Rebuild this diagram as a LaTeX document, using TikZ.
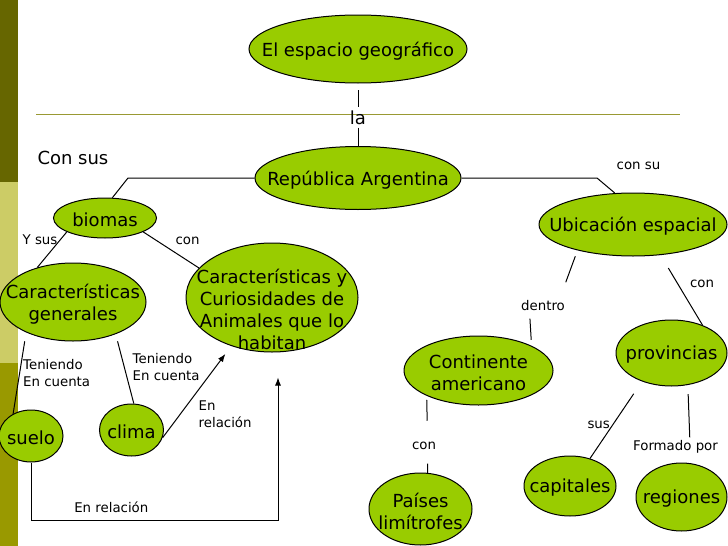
\documentclass[tikz,border=0pt]{standalone}
\usepackage{fontspec}
\setmainfont{DejaVu Sans}
\usetikzlibrary{shapes.geometric,arrows.meta}
\newcommand{\conceptfont}{\fontsize{13.5}{16.5}\selectfont}
\newcommand{\linkfont}{\fontsize{10}{12.75}\selectfont}

\tikzset{every picture/.style={line width=0.75pt}}
\tikzset{
  concept/.style={ellipse, draw=black, fill={rgb, 255:red, 153; green, 204; blue, 0 }, inner sep=0pt},
  every label/.style={font=\conceptfont, align=center, inner sep=0pt, yshift=-1.5pt},
  linkword/.style={font=\linkfont, inner sep=2pt},
  bigword/.style={font=\conceptfont, inner sep=2pt},
  relarrow/.style={-{Latex[length=6pt,width=4.5pt]}},
}

\begin{document}
\begin{tikzpicture}[x=0.75pt,y=0.75pt,yscale=-1,xscale=1]
\useasboundingbox (0,0) rectangle (728,546); %set diagram size 728 x 546

%Shape: Side bars
\fill [color={rgb, 255:red, 102; green, 102; blue, 0 }] (0,0) rectangle (18,182) ;
\fill [color={rgb, 255:red, 204; green, 204; blue, 102 }] (0,182) rectangle (18,363) ;
\fill [color={rgb, 255:red, 153; green, 153; blue, 0 }] (0,363) rectangle (18,546) ;
%Straight Lines: title rule
\draw [color={rgb, 255:red, 153; green, 153; blue, 51 }, line width=1.2pt] (36,114.5) -- (680,114.5) ;

%Shape: Ellipse
\node [concept, minimum width=163.5pt, minimum height=51pt, label=center:{El espacio geográfico}] (geo) at (358,49) {};
\node [concept, minimum width=154.5pt, minimum height=47.25pt, label=center:{República Argentina}] (rep) at (358,178) {};
\node [concept, minimum width=77.25pt, minimum height=30pt, label=center:{biomas}] (biomas) at (105,218) {};
\node [concept, minimum width=141pt, minimum height=47.25pt, label=center:{Ubicación espacial}] (ubic) at (633,224.5) {};
\node [concept, minimum width=109.5pt, minimum height=58.5pt, label={center:{Características\\generales}}] (cgen) at (73,302) {};
\node [concept, minimum width=129pt, minimum height=81.75pt, label={[yshift=-7.5pt]center:{Características y\\Curiosidades de\\Animales que lo\\habitan}}] (ccur) at (272,297.5) {};
\node [concept, minimum width=48pt, minimum height=39pt, label=center:{suelo}] (suelo) at (31,436) {};
\node [concept, minimum width=48pt, minimum height=39pt, label=center:{clima}] (clima) at (131.5,430) {};
\node [concept, minimum width=111.75pt, minimum height=51.75pt, label={center:{Continente\\americano}}] (cont) at (478.5,370.5) {};
\node [concept, minimum width=83.25pt, minimum height=49.5pt, label=center:{provincias}] (prov) at (671.5,353) {};
\node [concept, minimum width=69pt, minimum height=45pt, label=center:{capitales}] (cap) at (570,486) {};
\node [concept, minimum width=68.25pt, minimum height=51pt, label=center:{regiones}] (reg) at (681.5,497) {};
\node [concept, minimum width=77.25pt, minimum height=54pt, label={center:{Países\\limítrofes}}] (pais) at (420.5,509) {};

%Text
\node [bigword] (la) at (358,117.4) {la};
\node [bigword, anchor=west, inner sep=0pt] (consus) at (37,157.5) {Con sus};
\node [linkword] (ysus) at (40,240) {Y sus};
\node [linkword] (conbio) at (187.5,241) {con};
\node [linkword] (consu) at (638.5,166) {con su};
\node [linkword, align=left, anchor=west] (tsuelo) at (20,373.5) {Teniendo\\En cuenta};
\node [linkword, align=left, anchor=west] (tclima) at (129.5,367.5) {Teniendo\\En cuenta};
\node [linkword, align=left, anchor=west] (rclima) at (195.5,414) {En\\relación};
\node [linkword] (rsuelo) at (111.3,507.5) {En relación};
\node [linkword] (dentro) at (543,306) {dentro};
\node [linkword] (conprov) at (702,284) {con};
\node [linkword] (sus) at (598.7,424.7) {sus};
\node [linkword] (formado) at (675.5,447) {Formado por};
\node [linkword] (conpais) at (424,446) {con};

%Straight Lines
\draw [shorten <=5pt] (geo) -- (la) ;
\draw (la) -- (rep) ;
\coordinate (bendL) at (128,178) ;
\coordinate (bendR) at (597,178) ;
\draw (rep.west) -- (bendL) -- (biomas.70) ;
\draw (rep.east) -- (bendR) -- (ubic.120) ;
\draw (biomas.200) -- (cgen.136) ;
\draw (biomas.340) -- (ccur.158) ;
\draw [shorten <=6.75pt] (cgen.213) -- (suelo.129) ;
\draw [shorten <=5.5pt] (cgen.323) -- (clima.85) ;
\draw [relarrow, shorten >=7.4pt] (clima.346) -- (ccur.230) ;
\coordinate (bendB) at (278,520) ;
\draw [relarrow, shorten >=18.75pt] (suelo.south) |- (bendB) -- (bendB |- ccur.south) ;
\draw [shorten <=4.7pt, shorten >=12.3pt] (ubic.205) -- (dentro.26) ;
\draw [shorten <=3.2pt, shorten >=4.4pt] (dentro.212) -- (cont.25) ;
\draw [shorten <=11.3pt] (ubic.312) -- (prov.42) ;
\draw [shorten <=11.1pt] (prov.224) -- (cap.54) ;
\draw [shorten <=6.8pt] (prov.297) -- (formado.34) ;
\draw [shorten <=3pt, shorten >=13.7pt] (cont.206) -- (conpais.63) ;
\draw [shorten <=8pt] (conpais.297) -- (pais.79) ;

\end{tikzpicture}
\end{document}
